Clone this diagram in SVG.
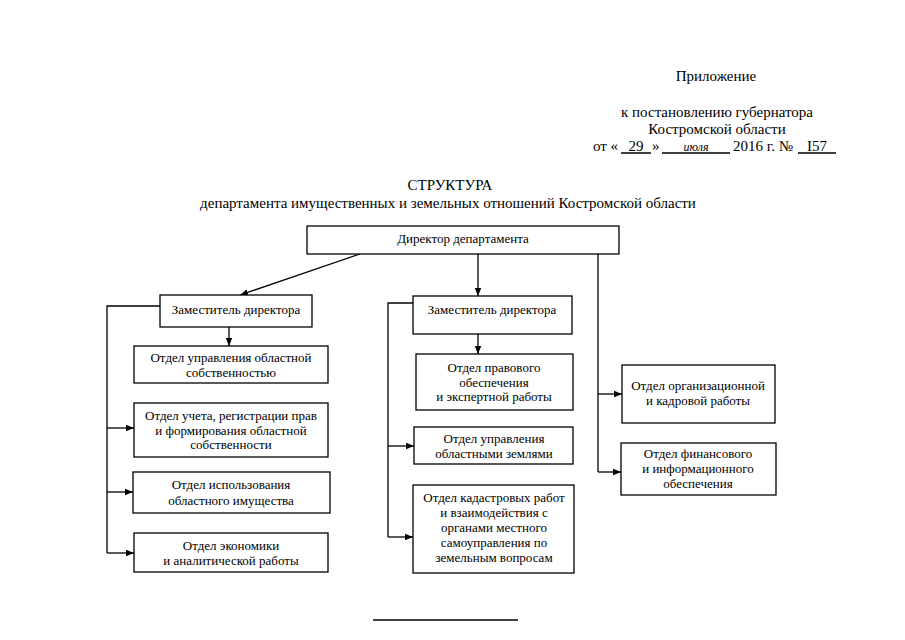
<svg xmlns="http://www.w3.org/2000/svg" width="905" height="640" viewBox="0 0 905 640" font-family="'Liberation Serif', 'DejaVu Serif', serif">
<defs>
<marker id="ah" viewBox="0 0 10 10" refX="10" refY="5" markerWidth="8" markerHeight="8" markerUnits="userSpaceOnUse" orient="auto">
<path d="M0,1 L10,5 L0,9 Z" fill="#000"/>
</marker>
<style>
text{font-family:'Liberation Serif',serif;fill:#000}
.h{font-size:15px}
.b{font-size:13px;text-anchor:middle}
.box{fill:#fff;stroke:#000;stroke-width:1.3}
.ln{fill:none;stroke:#000;stroke-width:1.3}
.ar{fill:none;stroke:#000;stroke-width:1.3;marker-end:url(#ah)}
</style>
</defs>
<rect width="905" height="640" fill="#fff"/>
<g id="header" class="h">
<text x="716" y="81" text-anchor="middle">Приложение</text>
<text x="717" y="117" text-anchor="middle">к постановлению губернатора</text>
<text x="717" y="134" text-anchor="middle">Костромской области</text>
<text x="593" y="151">от «</text>
<text x="636" y="151" text-anchor="middle">29</text>
<text x="652" y="151">»</text>
<text x="696" y="151" text-anchor="middle" font-size="12" font-style="italic">июля</text>
<text x="733" y="151">2016 г. №</text>
<text x="817" y="151" text-anchor="middle">I57</text>
<path class="ln" d="M621,153 H651 M662,153 H730 M798,153 H836" stroke-width="0.9"/>
</g>
<g id="title" class="h" text-anchor="middle">
<text x="450" y="190">СТРУКТУРА</text>
<text x="448" y="208">департамента имущественных и земельных отношений Костромской области</text>
</g>
<g id="connectors">
<path class="ar" d="M360,254 L240,295"/>
<path class="ar" d="M478,254 V296"/>
<path class="ln" d="M598,254 V472"/>
<path class="ar" d="M598,394 H622"/>
<path class="ar" d="M598,472 H621"/>
<path class="ar" d="M229,327 V346"/>
<path class="ln" d="M160,306 H107 V553"/>
<path class="ar" d="M107,428 H134"/>
<path class="ar" d="M107,492 H133"/>
<path class="ar" d="M107,553 H134"/>
<path class="ar" d="M478,334 V354"/>
<path class="ln" d="M413,303 H388 V537"/>
<path class="ar" d="M388,446 H414"/>
<path class="ar" d="M388,537 H413"/>
</g>
<g id="director">
<rect class="box" x="307" y="226" width="312" height="28"/>
<text class="b" x="463" y="243">Директор департамента</text>
</g>
<g id="deputy1">
<rect class="box" x="160" y="295" width="152" height="32"/>
<text class="b" x="236" y="314">Заместитель директора</text>
</g>
<g id="deputy2">
<rect class="box" x="413" y="296" width="159" height="38"/>
<text class="b" x="492" y="314">Заместитель директора</text>
</g>
<g id="dept-property">
<rect class="box" x="134" y="346" width="194" height="37"/>
<text class="b" x="231" y="361.5">Отдел управления областной</text>
<text class="b" x="231" y="376.5">собственностью</text>
</g>
<g id="dept-registration">
<rect class="box" x="134" y="403" width="194" height="54"/>
<text class="b" x="231" y="420">Отдел учета, регистрации прав</text>
<text class="b" x="231" y="434.5">и формирования областной</text>
<text class="b" x="231" y="449">собственности</text>
</g>
<g id="dept-usage">
<rect class="box" x="133" y="472" width="197" height="41"/>
<text class="b" x="231" y="489">Отдел использования</text>
<text class="b" x="231" y="505">областного имущества</text>
</g>
<g id="dept-economy">
<rect class="box" x="134" y="533" width="194" height="39"/>
<text class="b" x="231" y="550">Отдел экономики</text>
<text class="b" x="231" y="564.5">и аналитической работы</text>
</g>
<g id="dept-legal">
<rect class="box" x="416" y="354" width="157" height="56"/>
<text class="b" x="494" y="372">Отдел правового</text>
<text class="b" x="494" y="386.5">обеспечения</text>
<text class="b" x="494" y="401">и экспертной работы</text>
</g>
<g id="dept-lands">
<rect class="box" x="414" y="427" width="159" height="37"/>
<text class="b" x="494" y="443">Отдел управления</text>
<text class="b" x="494" y="457.5">областными землями</text>
</g>
<g id="dept-cadastre">
<rect class="box" x="413" y="485" width="161" height="88"/>
<text class="b" x="494" y="502">Отдел кадастровых работ</text>
<text class="b" x="494" y="517">и взаимодействия с</text>
<text class="b" x="494" y="532">органами местного</text>
<text class="b" x="494" y="547">самоуправления по</text>
<text class="b" x="494" y="562">земельным вопросам</text>
</g>
<g id="dept-hr">
<rect class="box" x="622" y="365" width="153" height="58"/>
<text class="b" x="698" y="390">Отдел организационной</text>
<text class="b" x="698" y="405">и кадровой работы</text>
</g>
<g id="dept-finance">
<rect class="box" x="621" y="443" width="155" height="52"/>
<text class="b" x="698" y="458">Отдел финансового</text>
<text class="b" x="698" y="473">и информационного</text>
<text class="b" x="698" y="488">обеспечения</text>
</g>
<g id="footer">
<path class="ln" d="M373,620 H518" stroke-width="1"/>
</g>
</svg>
